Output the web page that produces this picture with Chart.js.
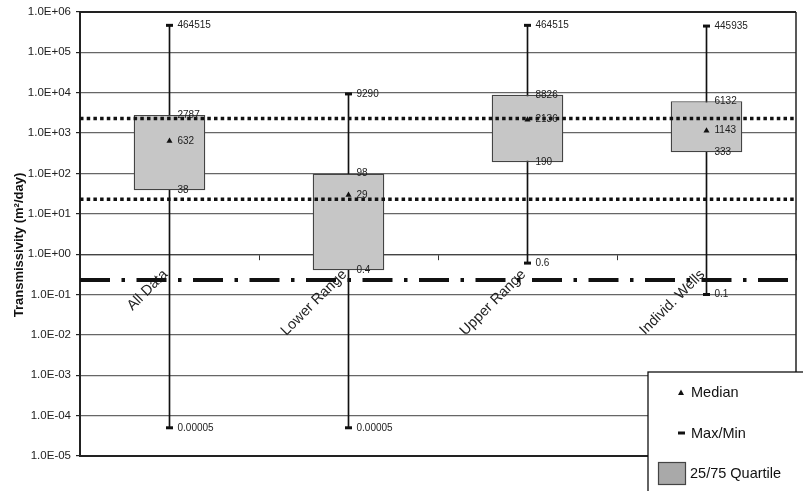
<!DOCTYPE html>
<html><head><meta charset="utf-8">
<script src="https://cdn.jsdelivr.net/npm/chart.js@4"></script>
<style>html,body{margin:0;padding:0;background:#fff}canvas{display:block}</style>
</head><body>
<canvas id="c" width="803" height="491"></canvas>
<script>
const categories = ['All Data', 'Lower Range', 'Upper Range', 'Individ. Wells'];
const maxValues = [464515, 9290, 464515, 445935];
const q3Values = [2787, 98, 8826, 6132];
const medianValues = [632, 29, 2136, 1143];
const q1Values = [38, 0.4, 190, 333];
const minValues = [0.00005, 0.00005, 0.6, 0.1];
const yTicks = [1e-5, 1e-4, 1e-3, 1e-2, 1e-1, 1e0, 1e1, 1e2, 1e3, 1e4, 1e5, 1e6];
const dottedRefs = [2300, 23];
const dashDotRefs = [0.23];
const legendLabels = ['Median', 'Max/Min', '25/75 Quartile'];
const yTitle = 'Transmissivity (m\u00B2/day)';

const FONT = "'Liberation Sans', Arial, sans-serif";

function fmtTick(v) {
  const e = Math.round(Math.log10(v));
  return '1.0E' + (e < 0 ? '-' : '+') + String(Math.abs(e)).padStart(2, '0');
}

const refLinesPlugin = {
  id: 'refLines',
  afterDatasetDraw(chart, args) {
    if (args.index !== 1) return;
    const {ctx, chartArea} = chart;
    const y = chart.scales.y;
    ctx.save();
    ctx.strokeStyle = '#111';
    ctx.lineWidth = 3.5;
    ctx.setLineDash([3.5, 3.2]);
    dottedRefs.forEach(v => {
      const py = y.getPixelForValue(v);
      ctx.beginPath(); ctx.moveTo(chartArea.left, py); ctx.lineTo(chartArea.right, py); ctx.stroke();
    });
    ctx.lineWidth = 4;
    ctx.setLineDash([30, 11.5, 3.5, 11.5]);
    dashDotRefs.forEach(v => {
      const py = y.getPixelForValue(v);
      ctx.beginPath(); ctx.moveTo(chartArea.left, py); ctx.lineTo(chartArea.right, py); ctx.stroke();
    });
    ctx.restore();
  }
};

const valueLabelsPlugin = {
  id: 'valueLabels',
  afterDatasetsDraw(chart) {
    const {ctx} = chart;
    const x = chart.scales.x, y = chart.scales.y;
    ctx.save();
    ctx.font = '10px ' + FONT;
    ctx.fillStyle = '#222';
    ctx.textAlign = 'left';
    ctx.textBaseline = 'middle';
    categories.forEach((c, i) => {
      const px = x.getPixelForValue(i) + 8;
      [maxValues, q3Values, medianValues, q1Values, minValues].forEach(arr => {
        ctx.fillText(String(arr[i]), px, y.getPixelForValue(arr[i]));
      });
    });
    ctx.restore();
  }
};

const framePlugin = {
  id: 'frame',
  afterDraw(chart) {
    const {ctx, chartArea: a} = chart;
    ctx.save();
    ctx.strokeStyle = '#222';
    ctx.lineWidth = 2;
    ctx.beginPath(); ctx.moveTo(a.left, a.top); ctx.lineTo(a.right, a.top); ctx.stroke();
    ctx.beginPath(); ctx.moveTo(a.left - 1, a.bottom); ctx.lineTo(a.right, a.bottom); ctx.stroke();
    ctx.lineWidth = 1.5;
    ctx.beginPath(); ctx.moveTo(a.right, a.top); ctx.lineTo(a.right, a.bottom); ctx.stroke();
    // y axis title
    ctx.font = 'bold 13px ' + FONT;
    ctx.fillStyle = '#111';
    ctx.textAlign = 'center';
    ctx.textBaseline = 'middle';
    ctx.translate(19, 245);
    ctx.rotate(-Math.PI / 2);
    ctx.fillText(yTitle, 0, 0);
    ctx.restore();

    // legend
    ctx.save();
    const lx = 648, ly = 372;
    ctx.fillStyle = '#fff';
    ctx.fillRect(lx, ly, chart.width - lx + 5, chart.height - ly + 5);
    ctx.strokeStyle = '#111';
    ctx.lineWidth = 1.3;
    ctx.strokeRect(lx, ly, chart.width - lx + 5, chart.height - ly + 5);
    ctx.font = '14.5px ' + FONT;
    ctx.fillStyle = '#111';
    ctx.textAlign = 'left';
    ctx.textBaseline = 'middle';
    // median triangle
    ctx.beginPath();
    ctx.moveTo(681, 389.5); ctx.lineTo(684, 395); ctx.lineTo(678, 395); ctx.closePath(); ctx.fill();
    ctx.fillText(legendLabels[0], 691, 392.5);
    // max/min bar
    ctx.fillRect(678, 431.5, 7, 3);
    ctx.fillText(legendLabels[1], 691, 433.5);
    // quartile box
    ctx.fillStyle = '#a9a9a9';
    ctx.fillRect(658.5, 462.5, 27, 22);
    ctx.strokeStyle = '#444';
    ctx.lineWidth = 1.2;
    ctx.strokeRect(658.5, 462.5, 27, 22);
    ctx.fillStyle = '#111';
    ctx.fillText(legendLabels[2], 690, 473.5);
    ctx.restore();
  }
};

new Chart(document.getElementById('c'), {
  type: 'bar',
  data: {
    labels: categories,
    datasets: [
      {
        label: 'Whisker',
        data: minValues.map((v, i) => [v, maxValues[i]]),
        backgroundColor: '#111',
        barThickness: 1,
        grouped: false,
        order: 3
      },
      {
        label: '25/75 Quartile',
        data: q1Values.map((v, i) => [v, q3Values[i]]),
        backgroundColor: '#c6c6c6',
        borderColor: '#444',
        borderWidth: 1.3,
        borderSkipped: false,
        categoryPercentage: 1,
        barPercentage: 0.4,
        grouped: false,
        order: 2
      },
      {
        type: 'line',
        label: 'Median',
        data: medianValues,
        showLine: false,
        pointStyle: 'triangle',
        pointRadius: 3.5,
        backgroundColor: '#111',
        borderColor: '#111',
        borderWidth: 0,
        order: 1
      },
      {
        type: 'line',
        label: 'Max',
        data: maxValues,
        showLine: false,
        pointStyle: 'line',
        pointRadius: 3.5,
        borderColor: '#111',
        borderWidth: 3,
        order: 1
      },
      {
        type: 'line',
        label: 'Min',
        data: minValues,
        showLine: false,
        pointStyle: 'line',
        pointRadius: 3.5,
        borderColor: '#111',
        borderWidth: 3,
        order: 1
      }
    ]
  },
  options: {
    responsive: false,
    animation: false,
    devicePixelRatio: 1,
    layout: {padding: {left: 0, right: 2, top: 11, bottom: 35}},
    plugins: {legend: {display: false}, tooltip: {enabled: false}},
    scales: {
      x: {
        type: 'category',
        position: {y: 1},
        offset: true,
        grid: {display: true, drawOnChartArea: false, drawTicks: true, tickLength: 5, color: '#333', offset: true},
        border: {display: true, color: '#444', width: 1.2},
        ticks: {minRotation: 45, maxRotation: 45, autoSkip: false, padding: 7, labelOffset: -4,
                font: {family: FONT, size: 14.5}, color: '#222'}
      },
      y: {
        type: 'logarithmic',
        min: 1e-5, max: 1e6,
        afterBuildTicks: s => { s.ticks = yTicks.map(v => ({value: v})); },
        afterFit: s => { s.width = 80; },
        ticks: {callback: v => fmtTick(v), font: {family: FONT, size: 11.5}, color: '#222', padding: 5},
        grid: {color: '#666', lineWidth: 1.2, tickLength: 4, tickColor: '#222'},
        border: {color: '#222', width: 2}
      }
    }
  },
  plugins: [refLinesPlugin, valueLabelsPlugin, framePlugin]
});
</script>
</body></html>
